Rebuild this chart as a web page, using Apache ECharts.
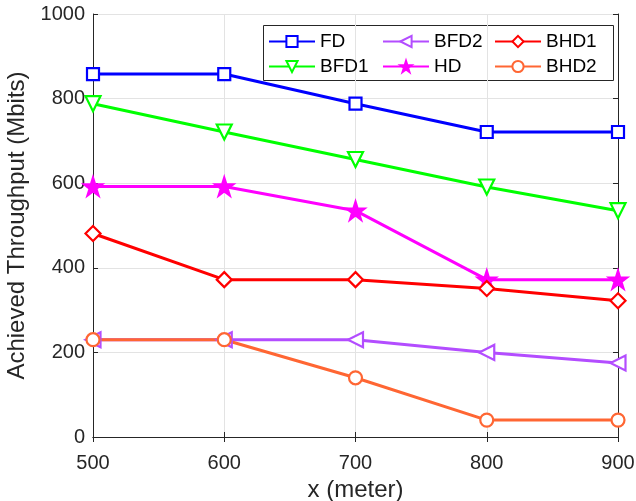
<!DOCTYPE html>
<html>
<head>
<meta charset="utf-8">
<script src="https://cdn.jsdelivr.net/npm/echarts@6/dist/echarts.min.js"></script>
<style>html,body{margin:0;padding:0;background:#fff;}#c{width:636px;height:501px;}</style>
</head>
<body>
<div id="c"></div>
<script>
var xValues = [500, 600, 700, 800, 900];
var FD   = [858, 858, 788, 721, 721];
var BFD1 = [788, 721, 656, 591, 535];
var BFD2 = [230, 230, 230, 200, 175];
var HD   = [592, 592, 535, 372, 372];
var BHD1 = [481, 372, 372, 351, 322];
var BHD2 = [230, 230, 140, 40, 40];
var xTicks = [500, 600, 700, 800, 900];
var yTicks = [0, 200, 400, 600, 800, 1000];

var STAR = 'path://M50,0 L61.2,34.5 L97.6,34.5 L68.2,55.9 L79.4,90.5 L50,69.1 L20.6,90.5 L31.8,55.9 L2.4,34.5 L38.8,34.5 Z';
var FONT = 'Liberation Sans, Arial, Helvetica, sans-serif';

function pairs(arr){ return arr.map(function(v,i){ return [xValues[i], v]; }); }

function mk(name, data, color, symbol, size, rot, filled){
  return {
    name: name, type: 'line', data: pairs(data),
    symbol: symbol, symbolSize: size, symbolRotate: rot || 0,
    showAllSymbol: true,
    lineStyle: {color: color, width: 3},
    itemStyle: {color: filled ? color : '#ffffff', borderColor: color, borderWidth: 2.2},
    emphasis: {disabled: true},
    animation: false
  };
}

var series = [
  mk('FD', FD, '#0000FF', 'rect', 12, 0, false),
  mk('BFD1', BFD1, '#00FF00', 'triangle', 15, 180, false),
  mk('BFD2', BFD2, '#B34DFF', 'triangle', 15, 90, false),
  mk('HD', HD, '#FF00FF', STAR, 18, 0, true),
  mk('BHD1', BHD1, '#FF0000', 'diamond', 15, 0, false),
  mk('BHD2', BHD2, '#FF6633', 'circle', 13, 0, false)
];

var axisColor = '#262626';
function legendCol(left, names){
  return {
    orient: 'vertical', left: left, top: 32, padding: 0,
    itemWidth: 46, itemHeight: 14, itemGap: 6,
    data: names, selectedMode: false,
    textStyle: {fontFamily: FONT, fontSize: 19, color: '#000'}
  };
}

var chart = echarts.init(document.getElementById('c'), null, {renderer: 'canvas'});
chart.setOption({
  backgroundColor: '#ffffff',
  animation: false,
  grid: {left: 93, right: 18, top: 14, bottom: 64, containLabel: false, outerBoundsMode: 'none'},
  legend: [
    legendCol(268, ['FD', 'BFD1']),
    legendCol(382, ['BFD2', 'HD']),
    legendCol(494, ['BHD1', 'BHD2'])
  ],
  graphic: [{
    type: 'rect', left: 263, top: 25, z: 0,
    shape: {width: 350, height: 55},
    style: {fill: '#ffffff', stroke: axisColor, lineWidth: 1}
  }],
  xAxis: [{
    type: 'value', min: xTicks[0], max: xTicks[xTicks.length-1], interval: 100,
    name: 'x (meter)', nameLocation: 'middle', nameGap: 40,
    nameTextStyle: {fontFamily: FONT, fontSize: 24, color: axisColor},
    axisLine: {show: true, lineStyle: {color: axisColor, width: 1}},
    axisTick: {show: true, inside: true, length: 5, lineStyle: {color: axisColor}},
    axisLabel: {fontFamily: FONT, fontSize: 20, color: axisColor, margin: 16,
      formatter: function(v){ return String(v); }},
    splitLine: {show: true, lineStyle: {color: '#e3e3e3', width: 1}}
  }, {
    type: 'value', position: 'top', min: xTicks[0], max: xTicks[xTicks.length-1], interval: 100,
    axisLine: {show: true, lineStyle: {color: axisColor, width: 1}},
    axisTick: {show: true, inside: true, length: 5, lineStyle: {color: axisColor}},
    axisLabel: {show: false}, splitLine: {show: false}
  }],
  yAxis: [{
    type: 'value', min: yTicks[0], max: yTicks[yTicks.length-1], interval: 200,
    name: 'Achieved Throughput (Mbits)', nameLocation: 'middle', nameGap: 59,
    nameTextStyle: {fontFamily: FONT, fontSize: 24, color: axisColor},
    axisLine: {show: true, lineStyle: {color: axisColor, width: 1}},
    axisTick: {show: true, inside: true, length: 5, lineStyle: {color: axisColor}},
    axisLabel: {fontFamily: FONT, fontSize: 20, color: axisColor, margin: 8,
      formatter: function(v){ return String(v); }},
    splitLine: {show: true, lineStyle: {color: '#e3e3e3', width: 1}}
  }, {
    type: 'value', position: 'right', min: yTicks[0], max: yTicks[yTicks.length-1], interval: 200,
    axisLine: {show: true, lineStyle: {color: axisColor, width: 1}},
    axisTick: {show: true, inside: true, length: 5, lineStyle: {color: axisColor}},
    axisLabel: {show: false}, splitLine: {show: false}
  }],
  series: series
});
</script>
</body>
</html>
